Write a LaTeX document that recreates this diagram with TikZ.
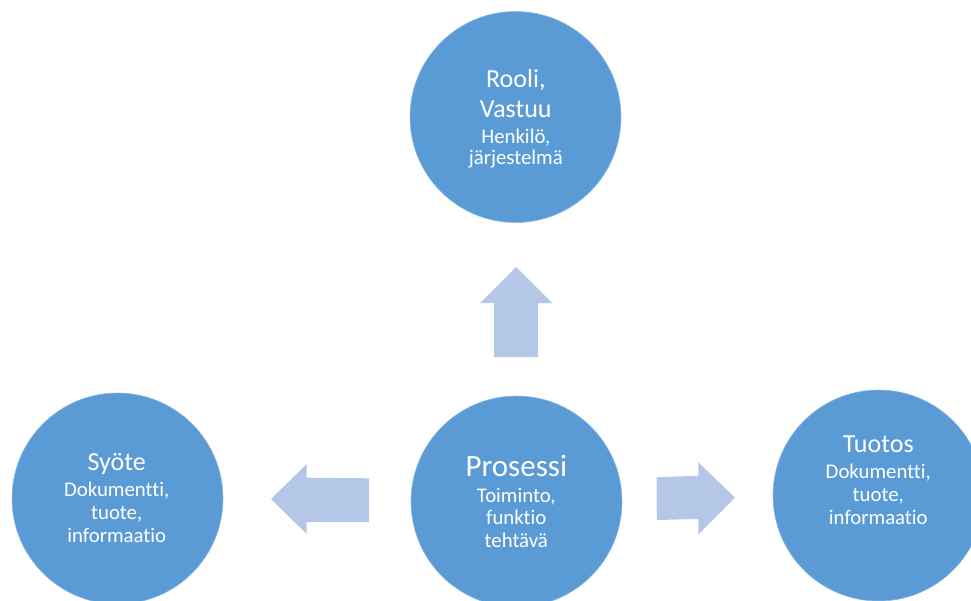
\documentclass[tikz,border=0pt]{standalone}
\usepackage{fontspec}
\setmainfont{Carlito}[Ligatures=NoCommon]
\definecolor{bubblefill}{HTML}{5B9BD5}
\definecolor{arrowfill}{HTML}{B4C7E7}
\tikzset{
  bubble/.style={circle, fill=bubblefill, draw=bubblefill!70!white, line width=0.6pt,
                 minimum size=211pt, inner sep=0pt},
  headtxt/.style={anchor=base, text=white, inner sep=0pt, font=\fontsize{26}{30}\selectfont},
  bigtxt/.style={anchor=base, text=white, inner sep=0pt, font=\fontsize{31}{36}\selectfont},
  subtxt/.style={anchor=base, text=white, inner sep=0pt, font=\fontsize{20.8}{24}\selectfont},
  blockarrow/.style={fill=arrowfill, draw=none}
}
\begin{document}
\begin{tikzpicture}[x=1pt,y=-1pt]
  \useasboundingbox (0,0) rectangle (971,600);
  \clip (0,0) rectangle (971,600);

  % circles
  \node[bubble] (rooli)    at (515.5,117)   {};
  \node[bubble] (syote)    at (117.5,498.5) {};
  \node[bubble] (prosessi) at (516.5,501.5) {};
  \node[bubble] (tuotos)   at (878.5,495.5) {};

  % block arrows from the process outwards
  \fill[blockarrow] (494,357) -- (494,303) -- (480,303) -- (516,267)
        -- (552,303) -- (538,303) -- (538,357) -- cycle;
  \fill[blockarrow] (369,478.3) -- (306.7,477.7) -- (306.7,464) -- (271,499)
        -- (306.7,534) -- (306.7,522) -- (369,522) -- cycle;
  \fill[blockarrow] (656.5,477.3) -- (698.3,475.7) -- (698.3,462.3) -- (735,497.7)
        -- (698.3,534.5) -- (698.3,519) -- (656.8,520) -- cycle;

  % texts: Rooli
  \node[headtxt] (rooliA) at (515.8,87)  {Rooli,};
  \node[headtxt] (rooliB) at (515.8,117) {Vastuu};
  \node[subtxt]  (rooliC) at (515.8,143) {Henkilö,};
  \node[subtxt]  (rooliD) at (515.8,164) {järjestelmä};

  % texts: Syöte
  \node[headtxt] (syoteA) at (116.7,470.7) {Syöte};
  \node[subtxt]  (syoteB) at (116.7,496.7) {Dokumentti,};
  \node[subtxt]  (syoteC) at (116.7,519.3) {tuote,};
  \node[subtxt]  (syoteD) at (116.7,542.7) {informaatio};

  % texts: Prosessi
  \node[bigtxt]  (prosA) at (516.3,476)   {Prosessi};
  \node[subtxt]  (prosB) at (516.3,502)   {Toiminto,};
  \node[subtxt]  (prosC) at (516.3,524)   {funktio};
  \node[subtxt]  (prosD) at (516.3,547.7) {tehtävä};

  % texts: Tuotos
  \node[headtxt] (tuotA) at (878.3,452.3) {Tuotos};
  \node[subtxt]  (tuotB) at (878.3,478.3) {Dokumentti,};
  \node[subtxt]  (tuotC) at (878.3,501.7) {tuote,};
  \node[subtxt]  (tuotD) at (878.3,524)   {informaatio};
\end{tikzpicture}
\end{document}
